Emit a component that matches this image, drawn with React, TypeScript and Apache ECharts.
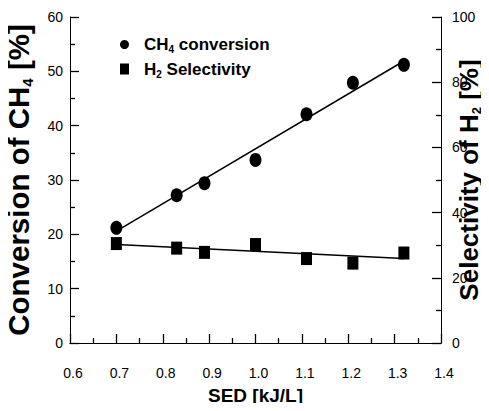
import React, { useEffect, useRef } from "react";
import * as echarts from "echarts";

const sed = [0.7, 0.83, 0.89, 1.0, 1.11, 1.21, 1.32];
const ch4Conversion = [21.2, 27.2, 29.4, 33.7, 42.1, 47.9, 51.2];
const h2Selectivity = [30.5, 29.1, 27.8, 30.2, 25.9, 24.5, 27.6];
const fitX = [0.7, 1.32];
const ch4FitY = [20.6, 51.9];
const h2FitY = [30.2, 25.9];

const FONT = "'Liberation Sans', Arial, sans-serif";

export default function App() {
  const ref = useRef<HTMLDivElement>(null);
  useEffect(() => {
    if (!ref.current) return;
    const chart = echarts.init(ref.current, null, { renderer: "svg" });
    const sub = (size: number) => ({
      fontSize: size,
      fontFamily: FONT,
      fontWeight: "bold" as const,
      color: "#000",
      lineHeight: size,
      verticalAlign: "bottom" as const,
    });
    const main = (size: number, lh: number) => ({
      fontSize: size,
      fontFamily: FONT,
      fontWeight: "bold" as const,
      color: "#000",
      lineHeight: lh,
      verticalAlign: "middle" as const,
    });
    const tick = () => ({ show: true, inside: true, length: 9, lineStyle: { color: "#000", width: 1.3 } });
    const minor = () => ({ show: true, splitNumber: 2, length: 5, lineStyle: { color: "#000", width: 1.3 } });
    chart.setOption({
      animation: false,
      backgroundColor: "#fff",
      grid: {
        left: 70,
        right: 48,
        top: 17,
        bottom: 68,
        show: false,
        outerBoundsMode: "none",
        containLabel: false,
      },
      legend: {
        orient: "vertical",
        left: 115,
        top: 31,
        itemGap: 6,
        itemWidth: 9,
        itemHeight: 11,
        data: [
          { name: "CH4 conversion", icon: "circle" },
          { name: "H2 Selectivity", icon: "rect" },
        ],
        formatter: (n: string) =>
          n === "CH4 conversion"
            ? "{t|CH}{s|4}{t| conversion}"
            : "{t|H}{s|2}{t| Selectivity}",
        textStyle: {
          fontSize: 17,
          fontWeight: "bold",
          fontFamily: FONT,
          color: "#000",
          padding: [0, 0, 0, 10],
          rich: {
            t: { fontSize: 17, fontWeight: "bold", fontFamily: FONT, color: "#000", lineHeight: 20, verticalAlign: "middle" },
            s: { fontSize: 10, fontWeight: "bold", fontFamily: FONT, color: "#000", lineHeight: 10, verticalAlign: "bottom" },
          },
        },
      },
      xAxis: [
        {
          type: "value",
          min: 0.6,
          max: 1.4,
          interval: 0.1,
          name: "SED [kJ/L]",
          nameLocation: "middle",
          nameGap: 43,
          nameMoveOverlap: false,
          nameTextStyle: { fontSize: 19, fontWeight: "bold", fontFamily: FONT, color: "#000" },
          axisLine: { show: true, lineStyle: { color: "#000", width: 1 } },
          axisTick: tick(),
          minorTick: minor(),
          splitLine: { show: false },
          axisLabel: {
            fontSize: 14,
            fontFamily: FONT,
            color: "#000",
            margin: 23,
            padding: [0, 0, 0, 6],
            formatter: (v: number) => v.toFixed(1),
          },
        },
        {
          type: "value",
          position: "top",
          min: 0.6,
          max: 1.4,
          interval: 0.1,
          axisLine: { show: true, lineStyle: { color: "#000", width: 1 } },
          axisTick: { show: false },
          axisLabel: { show: false },
          splitLine: { show: false },
        },
      ],
      yAxis: [
        {
          type: "value",
          min: 0,
          max: 60,
          interval: 10,
          name: "{b|Conversion of CH}{s|4}{b| [%]}",
          nameLocation: "middle",
          nameRotate: 90,
          nameGap: 35,
          nameMoveOverlap: false,
          nameTextStyle: { rich: { b: main(29.5, 34), s: sub(15) } },
          axisLine: { show: true, lineStyle: { color: "#000", width: 1 } },
          axisTick: tick(),
          minorTick: minor(),
          splitLine: { show: false },
          axisLabel: { fontSize: 14, fontFamily: FONT, color: "#000", margin: 7 },
        },
        {
          type: "value",
          min: 0,
          max: 100,
          interval: 20,
          position: "right",
          name: "{b|Selectivity of H}{s|2}{b| [%]}",
          nameLocation: "middle",
          nameRotate: 90,
          nameGap: 14,
          nameMoveOverlap: false,
          nameTextStyle: { rich: { b: main(26, 28), s: sub(13) } },
          axisLine: { show: true, lineStyle: { color: "#000", width: 1 } },
          axisTick: tick(),
          minorTick: minor(),
          splitLine: { show: false },
          axisLabel: { fontSize: 14, fontFamily: FONT, color: "#000", margin: 11 },
        },
      ],
      series: [
        {
          name: "CH4 conversion",
          type: "scatter",
          yAxisIndex: 0,
          symbol: "circle",
          symbolSize: [12, 14],
          itemStyle: { color: "#000", opacity: 1 },
          data: sed.map((x, i) => [x, ch4Conversion[i]]),
          z: 3,
        },
        {
          name: "H2 Selectivity",
          type: "scatter",
          yAxisIndex: 1,
          symbol: "rect",
          symbolSize: [11, 13],
          itemStyle: { color: "#000", opacity: 1 },
          data: sed.map((x, i) => [x, h2Selectivity[i]]),
          z: 3,
        },
        {
          name: "CH4 fit",
          type: "line",
          yAxisIndex: 0,
          showSymbol: false,
          symbol: "none",
          lineStyle: { color: "#000", width: 1.5 },
          data: fitX.map((x, i) => [x, ch4FitY[i]]),
          z: 2,
        },
        {
          name: "H2 fit",
          type: "line",
          yAxisIndex: 1,
          showSymbol: false,
          symbol: "none",
          lineStyle: { color: "#000", width: 1.5 },
          data: fitX.map((x, i) => [x, h2FitY[i]]),
          z: 2,
        },
      ],
    });
    return () => chart.dispose();
  }, []);
  return <div ref={ref} style={{ width: 489, height: 411, margin: -8 }} />;
}
